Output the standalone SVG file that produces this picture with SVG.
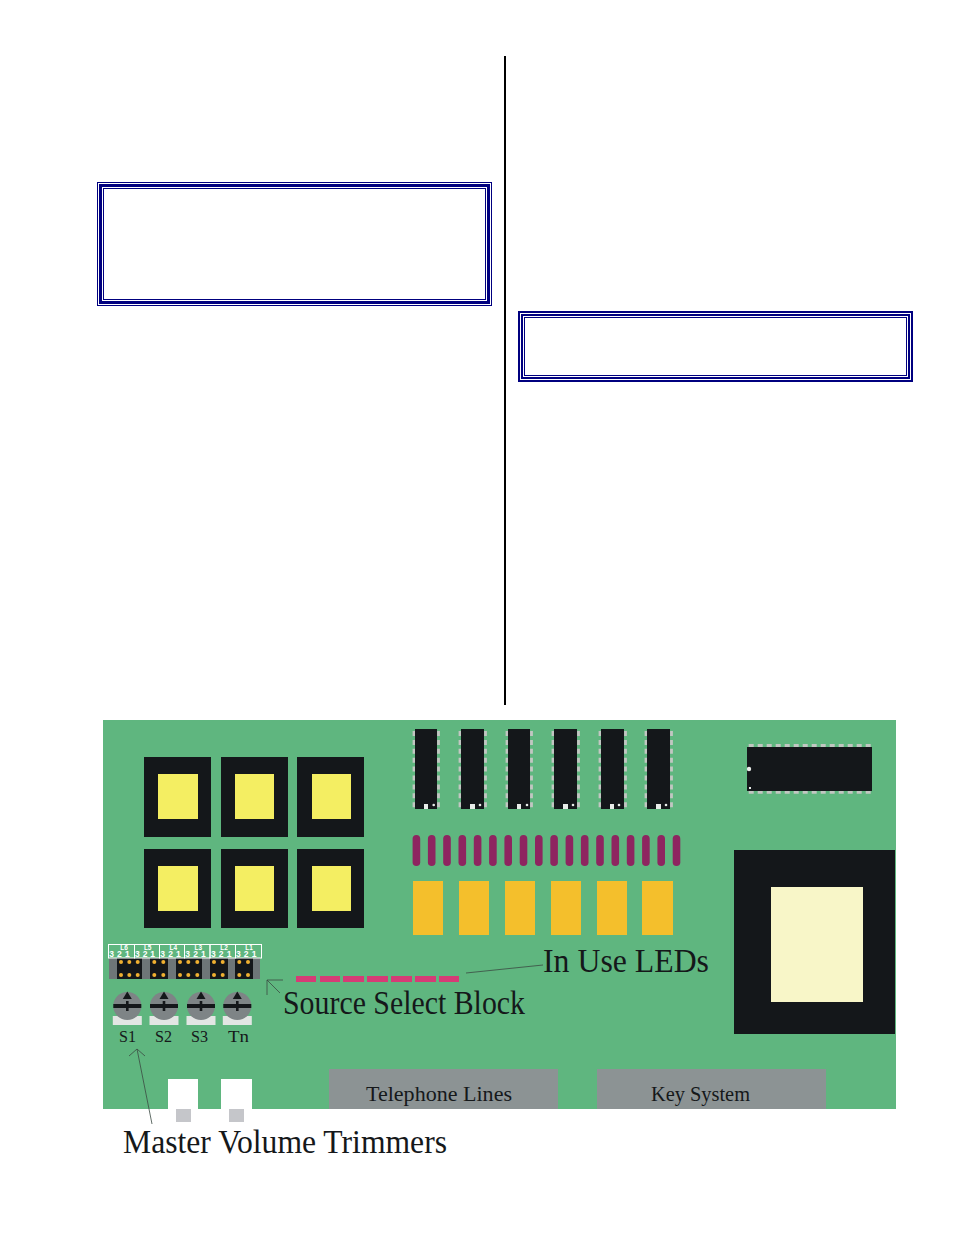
<svg xmlns="http://www.w3.org/2000/svg" xmlns:xlink="http://www.w3.org/1999/xlink" width="954" height="1235" viewBox="0 0 954 1235">
<style>
text{font-family:"Liberation Serif","Times New Roman",serif;fill:#15181a}
.f{fill:none;stroke:#00007f}
.blk{fill:#14171a}
.yel{fill:#f4ee62}
.org{fill:#f4bf2c}
.pur{fill:#8e2560}
.pnk{fill:#d63b76}
.pin{fill:none;stroke:#c2c6c2;stroke-width:2.8;stroke-dasharray:5 3.9}
.hp{fill:none;stroke:#c2c6c2;stroke-width:2.8;stroke-dasharray:5 4}
.wht{fill:#e9ece9}
.box{fill:none;stroke:#fff;stroke-width:1}
text.sm{font-family:"Liberation Sans",Arial,sans-serif;fill:#fff;font-size:8.500px;font-weight:bold;text-anchor:middle}
text.lb{font-family:"Liberation Sans",Arial,sans-serif;fill:#fff;font-size:6.500px;font-weight:bold;text-anchor:middle}
.dot{fill:#f0b030}
.gr{fill:#6e7678}
.tg{fill:#7e8486}
.tb{fill:#e3e6e4}
.bar{fill:#14171a}
.cn{fill:none;stroke:#3b4a42;stroke-width:.8}
.con{fill:#8c9394}
.big{font-size:34px}
.mid{font-size:22px}
.s{font-size:16.500px}
</style>
<defs>
<g id="trim">
<rect class="tb" x="-14.500" y="10" width="29" height="9"/>
<circle class="tg" r="14"/>
<rect class="bar" x="-14" y="-2" width="28" height="4"/>
<rect class="bar" x="-1.300" y="-5" width="2.600" height="10"/>
<path class="bar" d="M0-14.500L4.500-7H-4.500Z"/>
</g>
</defs>
<rect width="954" height="1235" fill="#fff"/>
<rect id="column-rule" x="504" y="56" width="2" height="649" fill="#000"/>
<g id="frame-1">
<rect class="f" x="97.500" y="182.500" width="394" height="123" stroke-width="1"/>
<rect class="f" x="100.500" y="185.500" width="388" height="117" stroke-width="3"/>
<rect class="f" x="103.500" y="188.500" width="382" height="111" stroke-width="1"/>
</g>
<g id="frame-2">
<rect class="f" x="519" y="312" width="393" height="69" stroke-width="2"/>
<rect class="f" x="522" y="315" width="387" height="63" stroke-width="2"/>
<rect class="f" x="524.500" y="317.500" width="382" height="58" stroke-width="1"/>
</g>
<g id="board"><rect x="103" y="720" width="793" height="389" fill="#5fb67f"/></g>
<g id="relays">
<rect class="blk" x="144" y="757" width="67" height="80"/><rect class="yel" x="158" y="774" width="40" height="45"/>
<rect class="blk" x="221" y="757" width="67" height="80"/><rect class="yel" x="235" y="774" width="39" height="45"/>
<rect class="blk" x="297" y="757" width="67" height="80"/><rect class="yel" x="312" y="774" width="39" height="45"/>
<rect class="blk" x="144" y="849" width="67" height="79"/><rect class="yel" x="158" y="866" width="40" height="45"/>
<rect class="blk" x="221" y="849" width="67" height="79"/><rect class="yel" x="235" y="866" width="39" height="45"/>
<rect class="blk" x="297" y="849" width="67" height="79"/><rect class="yel" x="312" y="866" width="39" height="45"/>
</g>
<g id="ics">
<g><path class="pin" d="M414 731V808M438.500 731V808"/><rect class="blk" x="415" y="729" width="22" height="80"/><rect class="wht" x="424" y="804" width="4" height="5"/><circle class="wht" cx="433.700" cy="805" r="1.300"/></g>
<g><path class="pin" d="M460 731V808M485.500 731V808"/><rect class="blk" x="461" y="729" width="23" height="80"/><rect class="wht" x="470" y="804" width="5" height="5"/><circle class="wht" cx="480" cy="805" r="1.300"/></g>
<g><path class="pin" d="M507 731V808M531.500 731V808"/><rect class="blk" x="508" y="729" width="22" height="80"/><rect class="wht" x="517" y="804" width="4" height="5"/><circle class="wht" cx="527" cy="805" r="1.300"/></g>
<g><path class="pin" d="M553 731V808M578.500 731V808"/><rect class="blk" x="554" y="729" width="23" height="80"/><rect class="wht" x="563" y="804" width="5" height="5"/><circle class="wht" cx="573" cy="805" r="1.300"/></g>
<g><path class="pin" d="M600 731V808M625.500 731V808"/><rect class="blk" x="601" y="729" width="23" height="80"/><rect class="wht" x="610" y="804" width="4" height="5"/><circle class="wht" cx="619" cy="805" r="1.300"/></g>
<g><path class="pin" d="M646 731V808M671.500 731V808"/><rect class="blk" x="647" y="729" width="23" height="80"/><rect class="wht" x="656" y="804" width="5" height="5"/><circle class="wht" cx="666" cy="805" r="1.300"/></g>
</g>
<g id="large-ic">
<path class="hp" d="M748.700 745.500H873M748.700 792.300H873"/>
<rect class="blk" x="747" y="747" width="125" height="44"/>
<circle class="wht" cx="749" cy="769" r="2.200"/>
<rect class="wht" x="749" y="787" width="2" height="2"/>
</g>
<g id="resistors">
<rect class="pur" x="412.600" y="835" width="7.600" height="31" rx="3.800"/>
<rect class="pur" x="427.900" y="835" width="7.600" height="31" rx="3.800"/>
<rect class="pur" x="443.200" y="835" width="7.600" height="31" rx="3.800"/>
<rect class="pur" x="458.500" y="835" width="7.600" height="31" rx="3.800"/>
<rect class="pur" x="473.800" y="835" width="7.600" height="31" rx="3.800"/>
<rect class="pur" x="489.100" y="835" width="7.600" height="31" rx="3.800"/>
<rect class="pur" x="504.400" y="835" width="7.600" height="31" rx="3.800"/>
<rect class="pur" x="519.700" y="835" width="7.600" height="31" rx="3.800"/>
<rect class="pur" x="535" y="835" width="7.600" height="31" rx="3.800"/>
<rect class="pur" x="550.300" y="835" width="7.600" height="31" rx="3.800"/>
<rect class="pur" x="565.600" y="835" width="7.600" height="31" rx="3.800"/>
<rect class="pur" x="580.900" y="835" width="7.600" height="31" rx="3.800"/>
<rect class="pur" x="596.200" y="835" width="7.600" height="31" rx="3.800"/>
<rect class="pur" x="611.500" y="835" width="7.600" height="31" rx="3.800"/>
<rect class="pur" x="626.800" y="835" width="7.600" height="31" rx="3.800"/>
<rect class="pur" x="642.100" y="835" width="7.600" height="31" rx="3.800"/>
<rect class="pur" x="657.400" y="835" width="7.600" height="31" rx="3.800"/>
<rect class="pur" x="672.700" y="835" width="7.600" height="31" rx="3.800"/>
</g>
<g id="capacitors">
<rect class="org" x="413" y="881" width="30" height="54"/>
<rect class="org" x="459" y="881" width="30" height="54"/>
<rect class="org" x="505" y="881" width="30" height="54"/>
<rect class="org" x="551" y="881" width="30" height="54"/>
<rect class="org" x="597" y="881" width="30" height="54"/>
<rect class="org" x="642" y="881" width="31" height="54"/>
</g>
<g id="transformer">
<rect class="blk" x="734" y="850" width="161" height="184"/>
<rect x="771" y="887" width="92" height="115" fill="#f8f6c8"/>
</g>
<g id="source-select-block">
<rect class="gr" x="109" y="958" width="151" height="21"/>
<rect class="blk" x="117" y="958" width="25" height="21"/>
<rect class="blk" x="150" y="958" width="18" height="21"/>
<rect class="blk" x="176" y="958" width="26" height="21"/>
<rect class="blk" x="210" y="958" width="18" height="21"/>
<rect class="blk" x="235" y="958" width="18" height="21"/>
<g class="dot">
<circle cx="121" cy="962" r="2"/><circle cx="129.300" cy="962" r="2"/><circle cx="137.700" cy="962" r="2"/>
<circle cx="121" cy="975" r="2"/><circle cx="129.300" cy="975" r="2"/><circle cx="137.700" cy="975" r="2"/>
<circle cx="154.300" cy="962" r="2"/><circle cx="163.300" cy="962" r="2"/><circle cx="154.300" cy="975" r="2"/><circle cx="163.300" cy="975" r="2"/>
<circle cx="180" cy="962" r="2"/><circle cx="188.300" cy="962" r="2"/><circle cx="197.300" cy="962" r="2"/>
<circle cx="180" cy="975" r="2"/><circle cx="188.300" cy="975" r="2"/><circle cx="197.300" cy="975" r="2"/>
<circle cx="214" cy="962" r="2"/><circle cx="222.700" cy="962" r="2"/><circle cx="214" cy="975" r="2"/><circle cx="222.700" cy="975" r="2"/>
<circle cx="239.300" cy="962" r="2"/><circle cx="248" cy="962" r="2"/><circle cx="239.300" cy="975" r="2"/><circle cx="248" cy="975" r="2"/>
</g>
<rect class="box" x="108.500" y="944.500" width="26" height="13.500"/>
<rect class="box" x="134.500" y="944.500" width="25" height="13.500"/>
<rect class="box" x="159.500" y="944.500" width="25" height="13.500"/>
<rect class="box" x="184.500" y="944.500" width="25.500" height="13.500"/>
<rect class="box" x="210" y="944.500" width="25.500" height="13.500"/>
<rect class="box" x="235.500" y="944.500" width="26" height="13.500"/>
<text class="lb" x="124" y="949.500">L6</text><text class="lb" x="147.700" y="949.500">L5</text><text class="lb" x="173.300" y="949.500">L4</text><text class="lb" x="198.300" y="949.500">L3</text><text class="lb" x="224" y="949.500">L2</text><text class="lb" x="249" y="949.500">L1</text>
<text class="sm" x="111.700" y="957">3</text><text class="sm" x="119.300" y="957">2</text><text class="sm" x="127.300" y="957">1</text>
<text class="sm" x="137.300" y="957">3</text><text class="sm" x="145" y="957">2</text><text class="sm" x="152.700" y="957">1</text>
<text class="sm" x="162.700" y="957">3</text><text class="sm" x="170.700" y="957">2</text><text class="sm" x="178.300" y="957">1</text>
<text class="sm" x="187.700" y="957">3</text><text class="sm" x="195.700" y="957">2</text><text class="sm" x="203.300" y="957">1</text>
<text class="sm" x="213.300" y="957">3</text><text class="sm" x="221" y="957">2</text><text class="sm" x="229" y="957">1</text>
<text class="sm" x="238.300" y="957">3</text><text class="sm" x="246" y="957">2</text><text class="sm" x="254" y="957">1</text>
</g>
<g id="in-use-leds">
<rect class="pnk" x="296" y="976" width="20" height="6"/>
<rect class="pnk" x="320" y="976" width="20" height="6"/>
<rect class="pnk" x="343" y="976" width="21" height="6"/>
<rect class="pnk" x="367" y="976" width="21" height="6"/>
<rect class="pnk" x="391" y="976" width="21" height="6"/>
<rect class="pnk" x="415" y="976" width="21" height="6"/>
<rect class="pnk" x="439" y="976" width="20" height="6"/>
</g>
<g id="trimmers">
<use xlink:href="#trim" href="#trim" x="127.300" y="1006"/>
<use xlink:href="#trim" href="#trim" x="164" y="1006"/>
<use xlink:href="#trim" href="#trim" x="201" y="1006"/>
<use xlink:href="#trim" href="#trim" x="237.300" y="1006"/>
<text class="s" x="119" y="1042" textLength="17" lengthAdjust="spacingAndGlyphs">S1</text>
<text class="s" x="155" y="1042" textLength="17" lengthAdjust="spacingAndGlyphs">S2</text>
<text class="s" x="191" y="1042" textLength="17" lengthAdjust="spacingAndGlyphs">S3</text>
<text class="s" x="228" y="1042" textLength="21" lengthAdjust="spacingAndGlyphs">Tn</text>
</g>
<g id="telephone-lines"><rect class="con" x="329" y="1069" width="229" height="40"/><text class="mid" x="366" y="1101" textLength="146" lengthAdjust="spacingAndGlyphs">Telephone Lines</text></g>
<g id="key-system"><rect class="con" x="597" y="1069" width="229" height="40"/><text class="mid" x="651" y="1101" textLength="99" lengthAdjust="spacingAndGlyphs">Key System</text></g>
<g id="jacks">
<rect x="168" y="1079" width="30" height="30" fill="#fff"/>
<rect x="221" y="1079" width="31" height="30" fill="#fff"/>
<rect x="176" y="1109" width="15" height="13" fill="#c5c6ca"/>
<rect x="229" y="1109" width="15" height="13" fill="#c5c6ca"/>
</g>
<g id="connectors">
<path class="cn" d="M466 973L543 965"/>
<path class="cn" d="M280 993L267 980M283 980H267V995"/>
<path class="cn" d="M152 1124L137 1049M129 1056L137 1049L145 1056"/>
</g>
<g id="labels">
<text class="big" x="543" y="972" textLength="166" lengthAdjust="spacingAndGlyphs">In Use LEDs</text>
<text class="big" x="283" y="1014" textLength="242" lengthAdjust="spacingAndGlyphs">Source Select Block</text>
<text class="big" x="123" y="1153" textLength="324" lengthAdjust="spacingAndGlyphs">Master Volume Trimmers</text>
</g>
</svg>
